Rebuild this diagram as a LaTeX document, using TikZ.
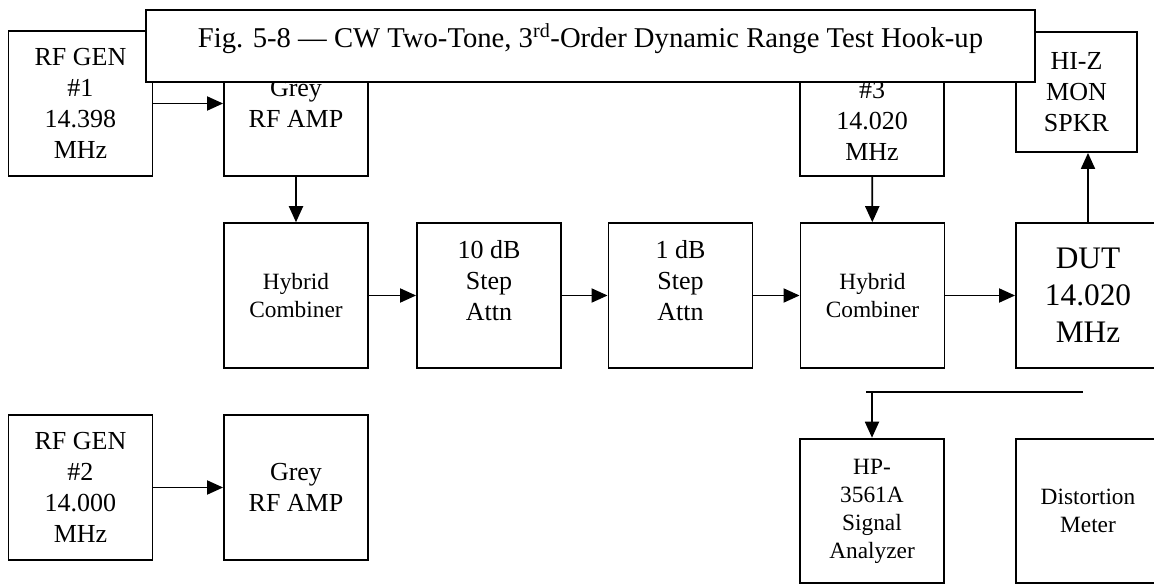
\documentclass[tikz,border=0pt]{standalone}
\usepackage{fontspec}
\setmainfont{Liberation Serif}
\usetikzlibrary{arrows.meta}

\tikzset{every picture/.style={line width=1.4pt}}
\tikzset{
  blk/.style={draw, fill=white, inner sep=0pt, minimum width=108pt, minimum height=108.5pt,
    align=center, font=\fontsize{19.5}{23.25}\selectfont},
  blksm/.style={blk, font=\fontsize{17.5}{21}\selectfont},
  blkbig/.style={blk, font=\fontsize{23.5}{27.75}\selectfont},
  conn/.style={-{Triangle[length=12pt,width=10.5pt]}},
}

\begin{document}
\begin{tikzpicture}[x=0.75pt,y=0.75pt,yscale=-1,xscale=1]
\useasboundingbox (0,0) rectangle (1154,584);

% top row
\node [blk] (gen1) at (80.5,103.5) {RF GEN\\\#1\\14.398\\MHz};
\node [blk] (amp1) at (296,103.5) {Grey\\RF AMP};
\node [blk] (gen3) at (872,103.5) {\strut\\\#3\\14.020\\MHz};
\node [blk, minimum width=90.75pt, minimum height=90pt] (hiz) at (1076.5,92) {HI-Z\\MON\\SPKR};

% middle row
\node [blksm] (hyb1) at (296,295.5) {Hybrid\\Combiner};
\node [blk] (att10) at (489,295.5) {10 dB\\Step\\Attn\\\mbox{}};
\node [blk] (att1) at (680.5,295.5) {1 dB\\Step\\Attn\\\mbox{}};
\node [blksm] (hyb2) at (872.5,295.5) {Hybrid\\Combiner};
\node [blkbig] (dut) at (1088,295.5) {DUT\\14.020\\MHz};

% bottom row
\node [blk] (gen2) at (80.5,487.5) {RF GEN\\\#2\\14.000\\MHz};
\node [blk] (amp2) at (296,487.5) {Grey\\RF AMP};
\node [blksm] (hp) at (872,511) {HP-\\3561A\\Signal\\Analyzer};
\node [blksm] (dist) at (1088,511) {Distortion\\Meter};

% connectors
\draw [conn] (gen1) -- (amp1);
\draw [conn] (amp1) -- (hyb1);
\draw [conn] (hyb1) -- (att10);
\draw [conn] (att10) -- (att1);
\draw [conn] (att1) -- (hyb2);
\draw [conn] (gen3) -- (hyb2);
\draw [conn] (hyb2) -- (dut);
\draw [conn] (dut.north) -- (dut.north |- hiz.south);
\draw [conn] (gen2) -- (amp2);

\coordinate (busL) at (866,392);
\coordinate (busR) at (1083,392);
\draw (busL) -- (busR);
\draw [conn] (hp.north |- busL) -- (hp.north);

% caption box
\node [draw, fill=white, inner sep=0pt, minimum width=666.75pt, minimum height=54pt,
  text height=15pt, text depth=12pt, font=\fontsize{21.5}{25}\selectfont] (title) at (590.5,46)
  {Fig. 5-8 — CW Two-Tone, 3\textsuperscript{rd}-Order Dynamic Range Test Hook-up};

\end{tikzpicture}
\end{document}
